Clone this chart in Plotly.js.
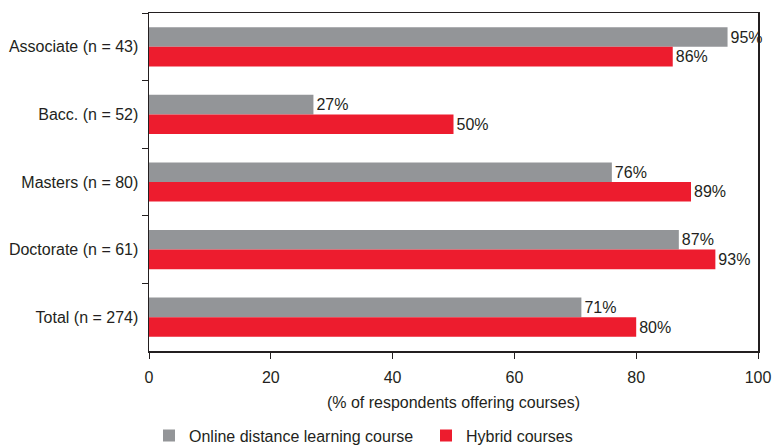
<!DOCTYPE html>
<html><head><meta charset="utf-8">
<script src="https://cdn.plot.ly/plotly-3.0.1.min.js"></script>
<style>html,body{margin:0;padding:0;background:#fff}#c{width:772px;height:447px}</style>
</head><body><div id="c"></div>
<script>
const categories = ["Associate (n = 43)", "Bacc. (n = 52)", "Masters (n = 80)", "Doctorate (n = 61)", "Total (n = 274)"];
const onlineValues = [95, 27, 76, 87, 71];
const hybridValues = [86, 50, 89, 93, 80];
const seriesNames = ["Online distance learning course", "Hybrid courses"];
const xTicks = [0, 20, 40, 60, 80, 100];

const FONT = "'Liberation Sans', Arial, sans-serif";
const TXT = "#231f20";

const traces = [
  {type:'bar', orientation:'h', name:seriesNames[0], y:categories, x:onlineValues,
   marker:{color:'#939598'}, text:onlineValues.map(v=>v+'%'), textposition:'outside',
   cliponaxis:false, textfont:{family:FONT,size:16,color:TXT}, hoverinfo:'none'},
  {type:'bar', orientation:'h', name:seriesNames[1], y:categories, x:hybridValues,
   marker:{color:'#ED1C2E'}, text:hybridValues.map(v=>v+'%'), textposition:'outside',
   cliponaxis:false, textfont:{family:FONT,size:16,color:TXT}, hoverinfo:'none'}
];

const layout = {
  width:772, height:447,
  margin:{l:149, r:14, t:13, b:96, pad:0, autoexpand:false},
  paper_bgcolor:'#fff', plot_bgcolor:'#fff',
  font:{family:FONT, size:16, color:TXT},
  barmode:'group', bargap:0.42, bargroupgap:0,
  showlegend:true,
  legend:{orientation:'h', x:0.0, xanchor:'left', y:-0.2, yanchor:'top',
          font:{family:FONT,size:16,color:TXT}, itemwidth:30, traceorder:'normal',
          entrywidth:232, entrywidthmode:'pixels'},
  xaxis:{range:[0,100], tickvals:xTicks, ticktext:xTicks.map(String), ticks:'outside', ticklen:6,
         tickcolor:'#231f20', showline:true, linecolor:'#231f20', linewidth:1.5, mirror:true,
         showgrid:false, zeroline:false, tickfont:{family:FONT,size:16,color:TXT},
         ticklabeloverflow:'allow', ticklabelstandoff:5,
         title:{text:'(% of respondents offering courses)', font:{family:FONT,size:16,color:TXT}, standoff:12}},
  yaxis:{type:'category', categoryorder:'array', categoryarray:categories, autorange:'reversed',
         ticks:'outside', ticklen:6, tickson:'boundaries', tickcolor:'#231f20',
         showline:true, linecolor:'#231f20', linewidth:1.5, mirror:true, showgrid:false,
         tickfont:{family:FONT,size:16,color:TXT}, ticklabelstandoff:6}
};

Plotly.newPlot('c', traces, layout, {displayModeBar:false, staticPlot:true});
</script></body></html>
